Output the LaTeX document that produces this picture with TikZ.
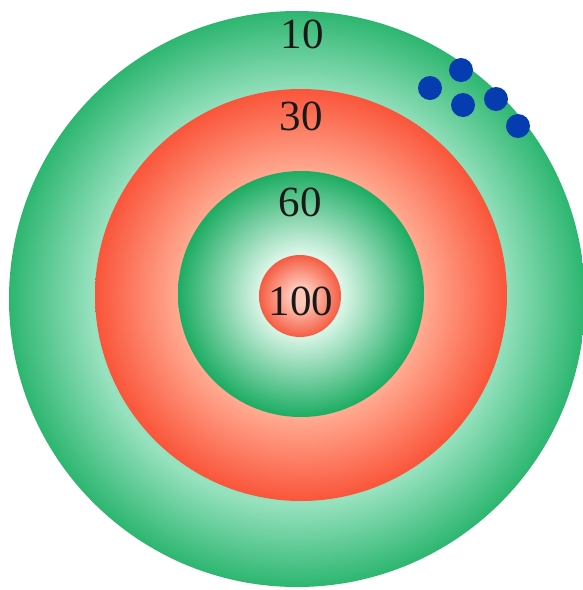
\documentclass[tikz,border=0pt]{standalone}
\usepackage{fontspec}
\setmainfont{Liberation Serif}
\definecolor{gdark}{RGB}{45,182,112}
\definecolor{glight}{RGB}{150,225,190}
\definecolor{rdark}{RGB}{250,85,58}
\definecolor{rlight}{RGB}{255,170,145}
\definecolor{g2dark}{RGB}{28,172,98}
\definecolor{g2light}{RGB}{220,246,233}
\definecolor{r2dark}{RGB}{245,92,66}
\definecolor{r2light}{RGB}{255,200,185}
\definecolor{dotblue}{RGB}{5,60,175}
\pgfdeclareradialshading{outergreen}{\pgfpoint{0bp}{0bp}}{color(0bp)=(glight); color(17.9bp)=(glight); color(25bp)=(gdark); color(50bp)=(gdark)}
\pgfdeclareradialshading{redring}{\pgfpoint{0bp}{0bp}}{color(0bp)=(rlight); color(14.9bp)=(rlight); color(25bp)=(rdark); color(50bp)=(rdark)}
\pgfdeclareradialshading{innergreen}{\pgfpoint{0bp}{0bp}}{color(0bp)=(g2light); color(8.3bp)=(g2light); color(25bp)=(g2dark); color(50bp)=(g2dark)}
\pgfdeclareradialshading{centerred}{\pgfpoint{0bp}{0bp}}{color(0bp)=(r2light); color(6bp)=(r2light); color(25bp)=(r2dark); color(50bp)=(r2dark)}
\tikzset{
  disc/.style={circle, inner sep=0pt, outer sep=0pt, draw=none},
  score/.style={inner sep=0pt, font=\fontsize{43}{43}\selectfont, text=black!90},
  hit/.style={circle, inner sep=0pt, minimum size=24pt, fill=dotblue}
}
\begin{document}
\begin{tikzpicture}[x=1pt,y=-1pt]
\useasboundingbox (0,0) rectangle (582,590);
\fill[white] (0,0) rectangle (582,590);
\node[disc, minimum size=576pt, shading=outergreen] (outer) at (297,299) {};
\node[disc, minimum size=412pt, shading=redring] (red) at (301,295) {};
\node[disc, minimum size=246pt, shading=innergreen] (inner) at (301,294) {};
\node[disc, minimum size=82pt, shading=centerred] (bull) at (300,296) {};
\node[score] (t10) at (302,34) {10};
\node[score] (t30) at (301,116) {30};
\node[score] (t60) at (300,202) {60};
\node[score] (t100) at (301,301) {100};
\node[hit] (d1) at (430,88) {};
\node[hit] (d2) at (461,70) {};
\node[hit] (d3) at (463,105) {};
\node[hit] (d4) at (496,99) {};
\node[hit] (d5) at (518,126) {};
\end{tikzpicture}
\end{document}
